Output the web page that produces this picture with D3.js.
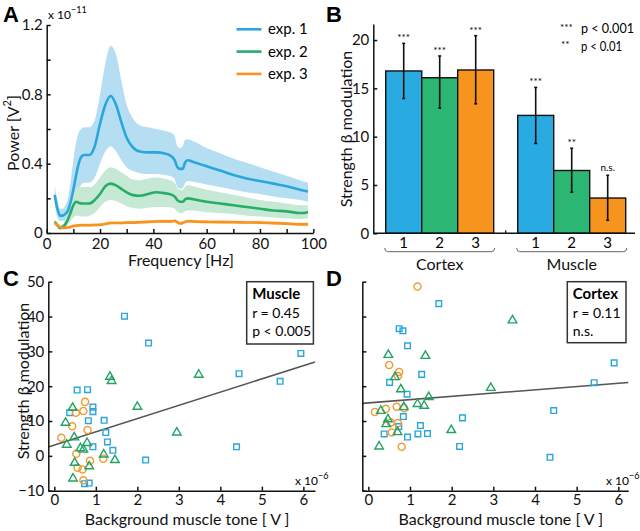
<!DOCTYPE html>
<html lang="en">
<head>
<meta charset="UTF-8">
<title>beta modulation figure</title>
<script src="https://cdn.jsdelivr.net/npm/d3@7"></script>
<style>
    body { margin: 0; background: #fff; }
    svg { font-family: Lato, "Open Sans", sans-serif; }
    .axis path, .axis line { stroke: #111; stroke-width: 1.5; }
    .axis text { font-size: 15px; fill: #111; font-family: Lato, sans-serif; }
    .plabel { font-family: "Liberation Sans", Arial, sans-serif; font-weight: bold; font-size: 22px; }
    .title { font-size: 16px; fill: #111; }
</style>
</head>
<body>
<svg id="fig" width="640" height="531"></svg>
<script>
    // ---- A: power spectra (x 1e-11 V^2)
    let freq = [3,4,5,6,7,8,9,10,11,12,13,14,16,18,20,22,24,26,28,30,32,35,38,41,44,47,48,49,50,51,52,53,55,60,65,70,75,80,85,90,95,98]
    let exp1Mean = [0.22,0.14,0.10,0.10,0.11,0.13,0.18,0.25,0.33,0.40,0.44,0.45,0.45,0.50,0.63,0.74,0.79,0.74,0.64,0.55,0.50,0.47,0.465,0.465,0.46,0.44,0.42,0.38,0.37,0.37,0.41,0.42,0.41,0.385,0.36,0.335,0.315,0.30,0.285,0.27,0.25,0.24]
    let exp1Hi = [0.27,0.19,0.14,0.14,0.16,0.20,0.30,0.42,0.52,0.58,0.60,0.61,0.61,0.65,0.80,0.98,1.08,1.03,0.88,0.74,0.67,0.62,0.61,0.60,0.59,0.575,0.56,0.50,0.49,0.50,0.54,0.54,0.53,0.49,0.46,0.43,0.405,0.38,0.355,0.33,0.305,0.29]
    let exp1Lo = [0.17,0.09,0.07,0.07,0.07,0.08,0.10,0.14,0.20,0.25,0.28,0.29,0.29,0.32,0.40,0.47,0.50,0.47,0.42,0.38,0.36,0.345,0.34,0.34,0.335,0.325,0.31,0.265,0.255,0.26,0.29,0.30,0.295,0.28,0.265,0.25,0.235,0.225,0.21,0.20,0.19,0.18]
    let exp2Mean = [0.065,0.045,0.03,0.035,0.05,0.08,0.12,0.16,0.18,0.175,0.17,0.17,0.17,0.19,0.225,0.27,0.285,0.275,0.255,0.235,0.22,0.215,0.225,0.235,0.23,0.22,0.21,0.19,0.18,0.18,0.195,0.20,0.195,0.18,0.17,0.16,0.15,0.14,0.13,0.125,0.115,0.12]
    let exp2Hi = [0.08,0.06,0.045,0.05,0.08,0.12,0.18,0.23,0.26,0.265,0.265,0.265,0.265,0.28,0.32,0.36,0.38,0.37,0.35,0.33,0.31,0.305,0.315,0.32,0.315,0.30,0.29,0.26,0.25,0.25,0.27,0.275,0.27,0.25,0.235,0.22,0.205,0.19,0.18,0.17,0.16,0.16]
    let exp2Lo = [0.05,0.03,0.015,0.02,0.03,0.05,0.07,0.09,0.10,0.10,0.095,0.095,0.10,0.115,0.15,0.18,0.19,0.185,0.17,0.155,0.145,0.14,0.145,0.15,0.15,0.145,0.14,0.125,0.115,0.115,0.125,0.13,0.13,0.12,0.115,0.11,0.10,0.095,0.09,0.085,0.08,0.085]
    let exp3Mean = [0.06,0.045,0.035,0.03,0.03,0.032,0.035,0.04,0.042,0.044,0.045,0.045,0.045,0.046,0.048,0.052,0.058,0.058,0.058,0.06,0.06,0.062,0.064,0.066,0.067,0.067,0.07,0.062,0.055,0.058,0.065,0.068,0.066,0.064,0.063,0.062,0.061,0.06,0.057,0.054,0.05,0.05]
    let exp3Hi = [0.07,0.055,0.045,0.04,0.04,0.042,0.045,0.05,0.052,0.054,0.055,0.055,0.055,0.056,0.058,0.062,0.068,0.068,0.068,0.07,0.07,0.072,0.074,0.076,0.077,0.077,0.08,0.072,0.065,0.068,0.075,0.078,0.076,0.074,0.073,0.072,0.071,0.07,0.067,0.064,0.06,0.06]
    let exp3Lo = [0.052,0.037,0.027,0.022,0.022,0.024,0.027,0.032,0.034,0.036,0.037,0.037,0.037,0.038,0.04,0.044,0.05,0.05,0.05,0.052,0.052,0.054,0.056,0.058,0.059,0.059,0.062,0.054,0.047,0.05,0.057,0.06,0.058,0.056,0.055,0.054,0.053,0.052,0.049,0.046,0.042,0.042]
    let expLabels = ["exp. 1", "exp. 2", "exp. 3"]

    // ---- B: strength of beta modulation
    let groups = ["Cortex", "Muscle"]
    let expNames = ["1", "2", "3"]
    let cortexMean = [16.8, 16.1, 16.9]
    let cortexHi = [19.65, 18.35, 20.45]
    let cortexLo = [13.95, 12.95, 13.4]
    let cortexSig = ["***", "***", "***"]
    let muscleMean = [12.2, 6.5, 3.65]
    let muscleHi = [15.1, 8.8, 6.0]
    let muscleLo = [9.3, 4.25, 1.35]
    let muscleSig = ["***", "**", "n.s."]
    let sigLegend = [["***", "p < 0.001"], ["**", "p < 0.01"]]

    // ---- C / D: modulation vs background muscle tone (x 1e-6 V)
    let muscleExp1 = [[0.55,18.9],[0.80,19.0],[0.37,12.4],[0.93,14.0],[0.93,12.7],[0.82,10.1],[1.20,10.2],[1.24,6.7],[1.28,4.0],[0.93,2.6],[1.41,1.6],[2.20,-1.2],[0.73,-8.0],[0.84,-7.8],[1.69,40.1],[2.27,32.4],[4.45,23.6],[5.44,21.4],[5.94,29.4],[4.39,2.6]]
    let muscleExp2 = [[1.34,22.7],[1.38,21.5],[3.48,23.3],[2.0,14.1],[0.44,13.8],[0.27,9.5],[0.48,5.3],[0.30,3.2],[0.63,2.2],[0.70,1.8],[0.79,3.7],[2.95,6.7],[1.19,0.4],[1.46,-1.2],[0.49,-2.0],[0.84,-3.0],[0.45,-6.5]]
    let muscleExp3 = [[0.74,15.5],[0.70,12.9],[0.52,12.4],[0.43,8.5],[0.80,7.4],[0.17,5.2],[0.53,0.6],[1.18,-0.8],[0.86,-1.4],[0.56,-3.4],[0.68,-3.9],[0.70,-7.0]]
    let cortexExp1 = [[1.69,43.7],[0.74,36.5],[0.83,35.9],[0.94,31.6],[5.90,26.7],[1.28,23.4],[0.51,21.1],[5.42,21.0],[0.93,17.7],[4.45,13.0],[0.84,11.3],[2.26,10.9],[1.25,8.7],[0.73,8.4],[0.38,6.3],[1.19,6.3],[1.42,6.4],[0.94,5.4],[2.19,2.7],[4.36,-0.4]]
    let cortexExp2 = [[3.46,38.9],[0.48,29.0],[1.37,28.7],[0.64,22.6],[0.78,19.1],[2.94,19.5],[1.45,16.9],[1.18,14.9],[1.34,14.4],[0.30,12.9],[0.85,14.0],[0.47,10.5],[0.43,9.1],[0.70,6.8],[1.99,7.4],[0.26,2.7]]
    let cortexExp3 = [[1.18,48.6],[0.50,26.1],[0.74,24.1],[0.71,22.9],[0.68,14.1],[0.86,13.7],[0.42,13.5],[0.16,12.6],[0.54,9.6],[0.71,9.4],[0.56,6.7],[0.80,2.6]]
    let muscleFit = [3.1, 3.8]    // intercept, slope
    let cortexFit = [15.2, 0.94]
    let muscleStats = ["Muscle", "r = 0.45", "p < 0.005"]
    let cortexStats = ["Cortex", "r = 0.11", "n.s."]

    let blue = "#2aa6df", green = "#27ad68", orange = "#f7941d"
    let lineCols = [blue, green, orange]
    let bandCols = ["#b6def3", "#c6e9d6", "#fcdcb4"]
    let barCols = ["#29abe2", "#2bb673", "#f7941e"]

    let svg = d3.select("#fig")

    function axisG(axis, tx, ty) {
        return svg.append("g").attr("class", "axis")
            .attr("transform", `translate(${tx},${ty})`)
            .call(axis)
    }

    function panelLabel(t, x, y) {
        svg.append("text").attr("class", "plabel").attr("x", x).attr("y", y).text(t)
    }

    function yTitle(t, x, y) {
        return svg.append("text").attr("class", "title")
            .attr("transform", `translate(${x},${y}) rotate(-90)`)
            .attr("text-anchor", "middle")
            .attr("dominant-baseline", "central")
            .text(t)
    }

    function exponent(x, y, base, sup) {
        let t = svg.append("text").attr("x", x).attr("y", y).style("font-size", "12px")
        t.append("tspan").text(base)
        t.append("tspan").attr("dy", -6).style("font-size", "9px").text(sup)
    }

    // ================= A =================
    let aX = d3.scaleLinear().domain([0, 100]).range([46.7, 313.3])
    let aY = d3.scaleLinear().domain([0, 1.2]).range([233, 25])

    let aSeries = [
        {mean: exp1Mean, hi: exp1Hi, lo: exp1Lo},
        {mean: exp2Mean, hi: exp2Hi, lo: exp2Lo},
        {mean: exp3Mean, hi: exp3Hi, lo: exp3Lo}
    ]
    let area = d3.area()
        .x((d, i) => aX(freq[i]))
        .y0(d => aY(d[0]))
        .y1(d => aY(d[1]))
        .curve(d3.curveMonotoneX)
    let line = d3.line()
        .x((d, i) => aX(freq[i]))
        .y(d => aY(d))
        .curve(d3.curveMonotoneX)

    aSeries.forEach((s, k) => {
        svg.append("path")
            .datum(s.lo.map((v, i) => [v, s.hi[i]]))
            .attr("d", area)
            .attr("fill", bandCols[k])
    })
    aSeries.forEach((s, k) => {
        svg.append("path")
            .datum(s.mean)
            .attr("d", line)
            .attr("fill", "none")
            .attr("stroke", lineCols[k])
            .attr("stroke-width", 2.6)
    })

    axisG(d3.axisBottom(aX).tickValues(d3.range(0, 101, 10))
        .tickFormat(d => d % 20 === 0 ? d : "")
        .tickSizeInner(-4).tickSizeOuter(0).tickPadding(5), 0, 233)
    axisG(d3.axisLeft(aY).tickValues([0, 0.2, 0.4, 0.6, 0.8, 1.0, 1.2])
        .tickFormat(d => [0, 0.4, 0.8, 1.2].includes(d) ? d3.format("~g")(d) : "")
        .tickSizeInner(-4).tickSizeOuter(0).tickPadding(4), 46.7, 0)

    svg.append("text").attr("class", "title")
        .attr("x", 181).attr("y", 266).attr("text-anchor", "middle")
        .text("Frequency [Hz]")
    let pw = yTitle("", 12, 133)
    pw.append("tspan").text("Power [V")
    pw.append("tspan").attr("dy", -6).style("font-size", "11px").text("2")
    pw.append("tspan").attr("dy", 6).text("]")
    exponent(48, 19, "x 10", "\u221211")

    // legend
    expLabels.forEach((t, k) => {
        let ly = 29.3 + k * 22.3
        svg.append("line").attr("x1", 236.5).attr("x2", 261.5).attr("y1", ly).attr("y2", ly)
            .attr("stroke", lineCols[k]).attr("stroke-width", 2.6)
        svg.append("text").attr("x", 268).attr("y", ly + 5).style("font-size", "15px").text(t)
    })
    panelLabel("A", 3, 21.7)

    // ================= B =================
    let bY = d3.scaleLinear().domain([0, 21.66]).range([233.3, 24])
    let bGroup = d3.scaleBand().domain(groups).range([385.7, 625.7]).paddingInner(0.1818)
    let bInner = d3.scaleBand().domain(expNames).range([0, bGroup.bandwidth()])

    let barData = []
    groups.forEach((g, gi) => {
        let m = gi === 0 ? cortexMean : muscleMean
        let hi = gi === 0 ? cortexHi : muscleHi
        let lo = gi === 0 ? cortexLo : muscleLo
        let sig = gi === 0 ? cortexSig : muscleSig
        expNames.forEach((e, i) => {
            barData.push({group: g, exp: e, k: i, mean: m[i], hi: hi[i], lo: lo[i], sig: sig[i]})
        })
    })

    svg.selectAll("rect.bar").data(barData).join("rect")
        .attr("class", "bar")
        .attr("x", d => bGroup(d.group) + bInner(d.exp))
        .attr("y", d => bY(d.mean))
        .attr("width", bInner.bandwidth())
        .attr("height", d => bY(0) - bY(d.mean))
        .attr("fill", d => barCols[d.k])
        .attr("stroke", "#111").attr("stroke-width", 1.4)

    let cx = d => bGroup(d.group) + bInner(d.exp) + bInner.bandwidth() / 2
    svg.selectAll("line.err").data(barData).join("line")
        .attr("class", "err")
        .attr("x1", cx).attr("x2", cx)
        .attr("y1", d => bY(d.lo)).attr("y2", d => bY(d.hi))
        .attr("stroke", "#111").attr("stroke-width", 1.6)
    svg.selectAll("line.capHi").data(barData).join("line")
        .attr("class", "capHi")
        .attr("x1", d => cx(d) - 1.5).attr("x2", d => cx(d) + 1.5)
        .attr("y1", d => bY(d.hi)).attr("y2", d => bY(d.hi))
        .attr("stroke", "#111").attr("stroke-width", 1.6)
    svg.selectAll("line.capLo").data(barData).join("line")
        .attr("class", "capLo")
        .attr("x1", d => cx(d) - 1.5).attr("x2", d => cx(d) + 1.5)
        .attr("y1", d => bY(d.lo)).attr("y2", d => bY(d.lo))
        .attr("stroke", "#111").attr("stroke-width", 1.6)
    svg.selectAll("text.sig").data(barData).join("text")
        .attr("class", "sig")
        .attr("x", cx)
        .attr("y", d => bY(d.hi) - (d.sig === "n.s." ? 4 : 2))
        .attr("text-anchor", "middle")
        .style("font-size", "10px")
        .text(d => d.sig)

    axisG(d3.axisLeft(bY).tickValues([0, 5, 10, 15, 20])
        .tickSizeInner(-4).tickSizeOuter(0).tickPadding(4), 373.3, 0)
    // x baseline with one tick in the gap between groups
    let gapX = (bGroup("Cortex") + bGroup.bandwidth() + bGroup("Muscle")) / 2
    svg.append("line").attr("x1", 373.3).attr("x2", 635).attr("y1", bY(0)).attr("y2", bY(0))
        .attr("stroke", "#111").attr("stroke-width", 1.5)
    svg.append("line").attr("x1", gapX).attr("x2", gapX).attr("y1", bY(0)).attr("y2", bY(0) - 3)
        .attr("stroke", "#111").attr("stroke-width", 1.2)

    svg.selectAll("text.expnum").data(barData).join("text")
        .attr("class", "expnum")
        .attr("x", cx).attr("y", 248)
        .attr("text-anchor", "middle").style("font-size", "15px")
        .text(d => d.exp)
    groups.forEach(g => {
        let x0 = bGroup(g) - 1, x1 = bGroup(g) + bGroup.bandwidth() + 1
        svg.append("path")
            .attr("d", `M${x0},248 Q${x0},251.7 ${x0 + 3},251.7 L${x1 - 3},251.7 Q${x1},251.7 ${x1},248`)
            .attr("fill", "none").attr("stroke", "#666").attr("stroke-width", 1)
        svg.append("text").attr("class", "title")
            .attr("x", bGroup(g) + bGroup.bandwidth() / 2).attr("y", 270)
            .attr("text-anchor", "middle").text(g)
    })
    yTitle("Strength \u03b2 modulation", 345, 129)

    // significance legend
    sigLegend.forEach((s, i) => {
        svg.append("text").attr("x", 560 + i).attr("y", 31 + i * 17).style("font-size", "10px").text(s[0])
        svg.append("text").attr("x", 581).attr("y", 33 + i * 17.5).style("font-size", "14px")
            .attr("textLength", i === 0 ? 53 : 41).attr("lengthAdjust", "spacingAndGlyphs")
            .text(s[1])
    })
    panelLabel("B", 326, 21.7)

    // ================= C / D =================
    function scatterPanel(opt) {
        let x = d3.scaleLinear().domain(opt.xDomain).range(opt.xRange)
        let y = d3.scaleLinear().domain([-10, 50]).range([490.7, 281.7])

        let fit = opt.fit
        svg.append("line")
            .attr("x1", x(opt.xDomain[0])).attr("y1", y(fit[0] + fit[1] * opt.xDomain[0]))
            .attr("x2", x(opt.xDomain[1])).attr("y2", y(fit[0] + fit[1] * opt.xDomain[1]))
            .attr("stroke", "#555").attr("stroke-width", 1.6)

        let sets = [
            {data: opt.exp1, type: d3.symbolSquare, size: 32, col: blue},
            {data: opt.exp3, type: d3.symbolCircle, size: 40, col: "#f39a33"},
            {data: opt.exp2, type: d3.symbolTriangle, size: 32, col: "#23a363"}
        ]
        sets.forEach(s => {
            svg.append("g").selectAll("path").data(s.data).join("path")
                .attr("transform", d => `translate(${x(d[0])},${y(d[1])})`)
                .attr("d", d3.symbol().type(s.type).size(s.size))
                .attr("fill", "none")
                .attr("stroke", s.col).attr("stroke-width", 1.4)
        })

        axisG(d3.axisBottom(x).tickValues(d3.range(0, 7))
            .tickFormat(d3.format("d"))
            .tickSizeInner(-4).tickSizeOuter(0).tickPadding(4), 0, 490.7)
        axisG(d3.axisLeft(y).tickValues(d3.range(-10, 51, 10))
            .tickFormat(opt.yLabels ? (d => d < 0 ? "\u2212" + Math.abs(d) : d) : "")
            .tickSizeInner(-4).tickSizeOuter(0).tickPadding(4), opt.xRange[0], 0)

        svg.append("text").attr("class", "title")
            .attr("x", (opt.xRange[0] + opt.xRange[1]) / 2 + 5.5).attr("y", 525)
            .attr("text-anchor", "middle").text("Background muscle tone [ V ]")
        exponent(opt.expX, 485, "x 10", "\u22126")

        // stats box
        let b = opt.box
        svg.append("rect").attr("x", b[0]).attr("y", 281.7).attr("width", b[1]).attr("height", b[2])
            .attr("fill", "#fff").attr("stroke", "#333").attr("stroke-width", 1.5)
        opt.stats.forEach((t, i) => {
            svg.append("text").attr("x", b[0] + 5.5).attr("y", [298.5, 318, 336][i])
                .style("font-size", i === 0 ? "15px" : "14px")
                .style("font-weight", i === 0 ? "bold" : "normal")
                .text(t)
        })
    }

    scatterPanel({xDomain: [-0.145, 6.28], xRange: [48.3, 315], exp1: muscleExp1, exp2: muscleExp2,
        exp3: muscleExp3, fit: muscleFit, stats: muscleStats, yLabels: true, expX: 295, box: [246.7, 66.7, 62.3]})
    scatterPanel({xDomain: [-0.145, 6.24], xRange: [362.3, 628.3], exp1: cortexExp1, exp2: cortexExp2,
        exp3: cortexExp3, fit: cortexFit, stats: cortexStats, yLabels: false, expX: 606, box: [567.3, 58.7, 61]})

    yTitle("Strength \u03b2 modulation", 22, 381)
    panelLabel("C", 3, 286)
    panelLabel("D", 326, 286)
</script>
</body>
</html>
